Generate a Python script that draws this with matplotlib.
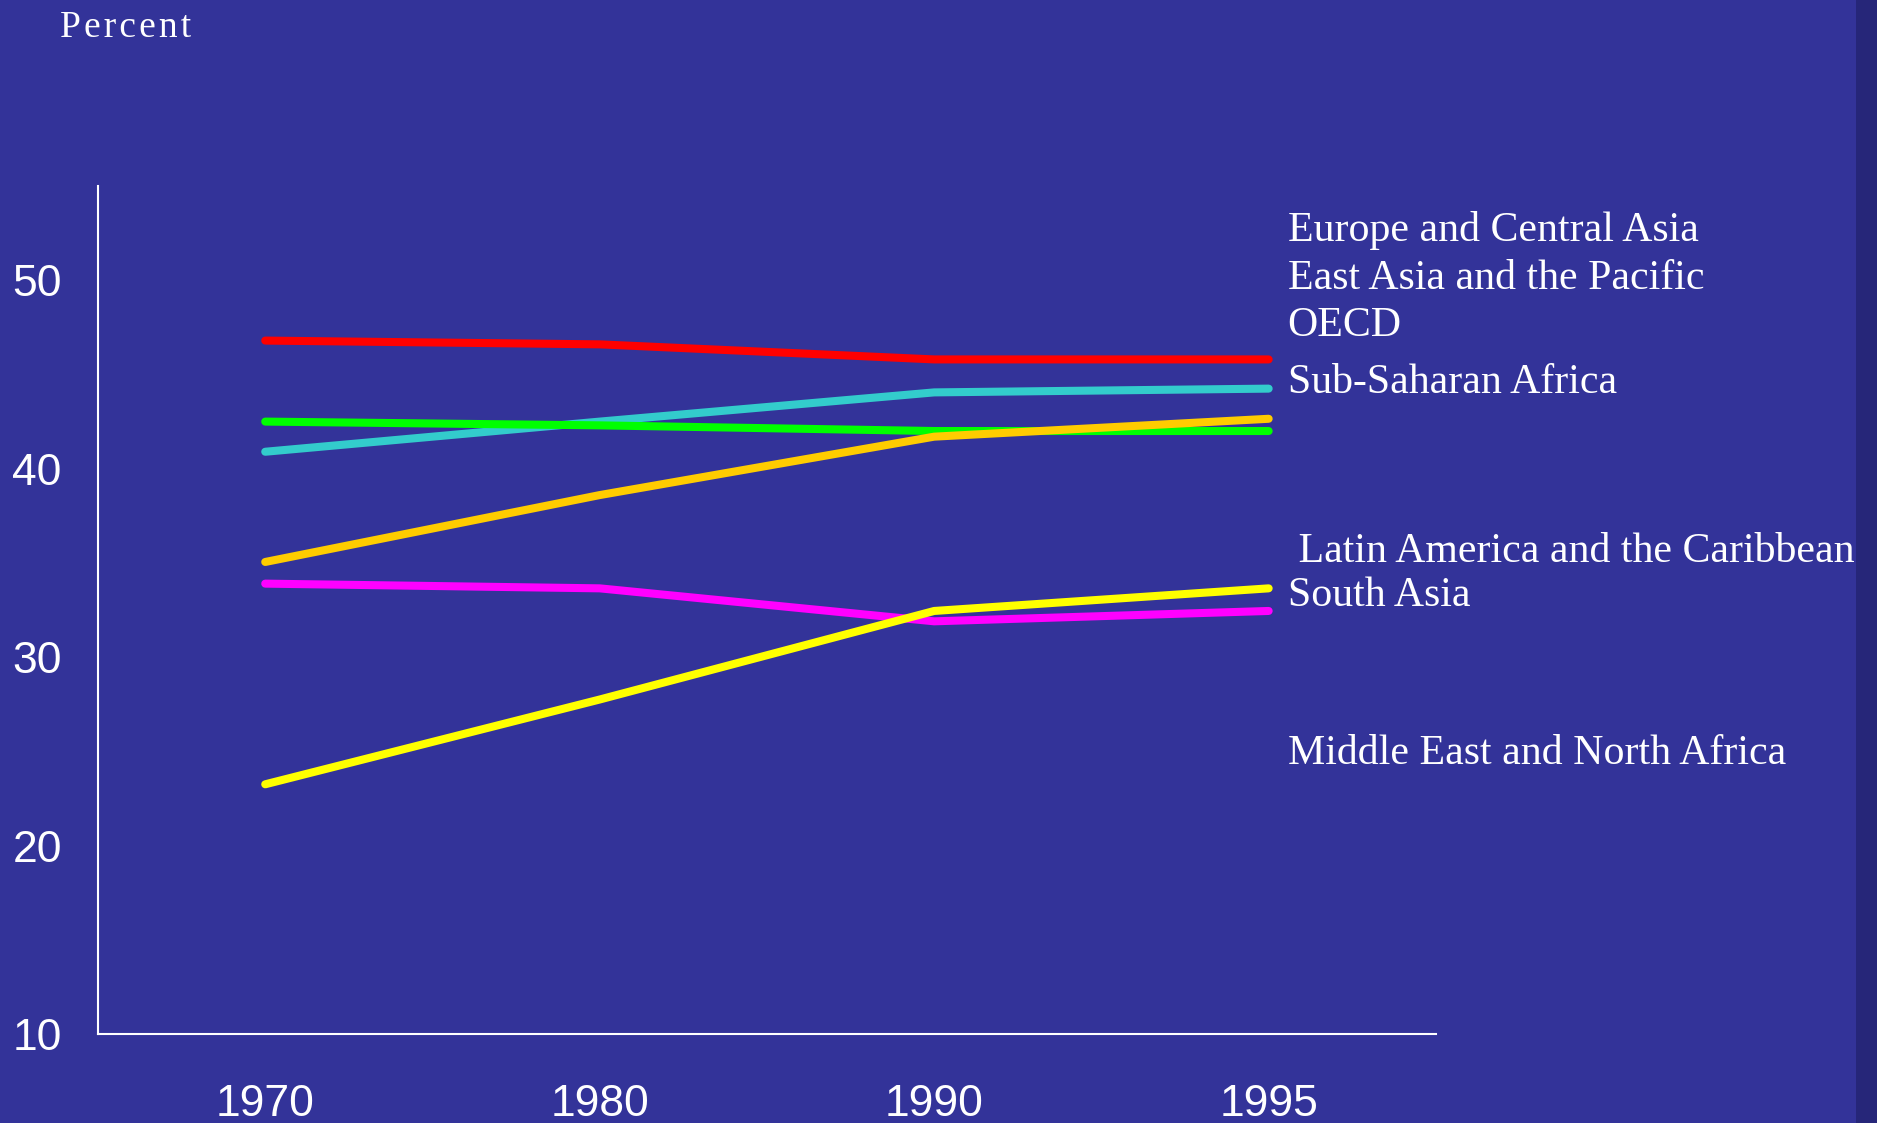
import matplotlib.pyplot as plt
from matplotlib.patches import Rectangle

years = ["1970", "1980", "1990", "1995"]

red = [46.8, 46.6, 45.8, 45.8]
cyan = [40.9, 42.5, 44.05, 44.25]
green = [42.5, 42.3, 42.0, 42.0]
orange = [35.05, 38.6, 41.7, 42.65]
magenta = [33.9, 33.65, 31.9, 32.45]
yellow = [23.25, 27.75, 32.45, 33.65]

region_labels = [
    "Europe and Central Asia",
    "East Asia and the Pacific",
    "OECD",
    "Sub-Saharan Africa",
    " Latin America and the Caribbean",
    "South Asia",
    "Middle East and North Africa",
]
label_y = [52.65, 50.1, 47.58, 44.58, 35.58, 33.24, 24.88]

bg = "#333399"

fig = plt.figure(figsize=(18.77, 11.23), dpi=100, facecolor=bg)
fig.patches.append(Rectangle((0.9888, 0), 0.0112, 1, transform=fig.transFigure,
                             facecolor="#262679", edgecolor="none", zorder=0))
ax = fig.add_axes([0.0522, 0.0793, 0.7128, 0.755])
ax.set_facecolor(bg)

x = range(len(years))
series = [
    (red, "#ff0000"),
    (cyan, "#33cccc"),
    (green, "#00ff00"),
    (orange, "#ffcc00"),
    (magenta, "#ff00ff"),
    (yellow, "#ffff00"),
]
for vals, col in series:
    ax.plot(x, vals, color=col, lw=5.8, solid_capstyle="round", solid_joinstyle="round")

for name, yv in zip(region_labels, label_y):
    ax.text(3.057, yv, name, color="white", fontsize=30.2, family="Liberation Serif",
            va="center", ha="left", clip_on=False)

ax.set_xlim(-0.5, 3.5)
ax.set_ylim(10, 55)
ax.set_xticks(list(x))
ax.set_xticklabels(years)
ax.set_yticks([10, 20, 30, 40, 50])
ax.tick_params(length=0, colors="white", labelsize=32)
ax.tick_params(axis="y", pad=26)
ax.tick_params(axis="x", pad=36)
for lab in ax.get_xticklabels() + ax.get_yticklabels():
    lab.set_family("Liberation Sans")

for s in ["top", "right"]:
    ax.spines[s].set_visible(False)
for s in ["left", "bottom"]:
    ax.spines[s].set_color("white")
    ax.spines[s].set_linewidth(1.5)

fig.text(0.032, 0.975, "\u200a".join("Percent"), color="white", fontsize=27,
         family="Liberation Serif", va="center", ha="left")

fig.savefig("out.png", dpi=100, facecolor=bg)
